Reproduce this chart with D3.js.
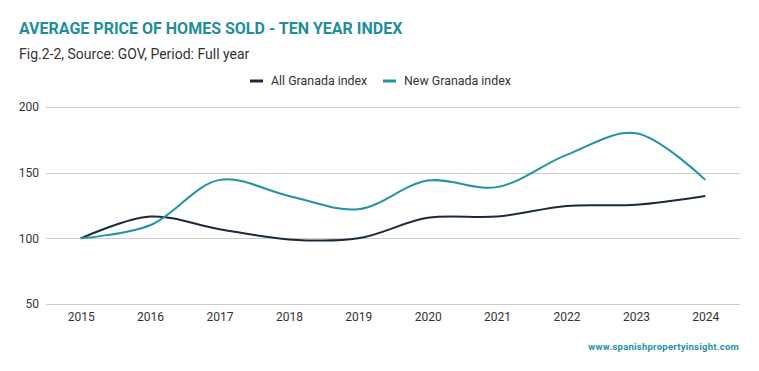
<!DOCTYPE html>
<html>
<head>
<meta charset="utf-8">
<script src="https://cdn.jsdelivr.net/npm/d3@7"></script>
<style>
  body { margin: 0; background: #fff; }
  svg text { font-family: Roboto, "Noto Sans", sans-serif; }
</style>
</head>
<body>
<div id="chart"></div>
<script>
// data
var years = [2015, 2016, 2017, 2018, 2019, 2020, 2021, 2022, 2023, 2024];
var allGranada = [100, 116.6, 107, 99.2, 100, 115.6, 116.6, 124.7, 125.6, 132.3];
var newGranada = [100, 110, 144.5, 132.3, 122.2, 144, 139, 163.5, 180, 144.5];
var yTicks = [50, 100, 150, 200];
var seriesNames = ["All Granada index", "New Granada index"];

var W = 759, H = 371;
var margin = {top: 107, right: 19, bottom: 67, left: 46};
var width = W - margin.left - margin.right,
    height = H - margin.top - margin.bottom;

var colors = ["#1b2a3b", "#2293a2"];

var svg = d3.select("#chart")
  .append("svg")
  .attr("width", W)
  .attr("height", H);

// Title
svg.append("text")
  .attr("x", 19)
  .attr("y", 34)
  .style("font-size", "16px")
  .style("font-weight", "bold")
  .attr("fill", "#1f8d9a")
  .text("AVERAGE PRICE OF HOMES SOLD - TEN YEAR INDEX");

// Subtitle
svg.append("text")
  .attr("x", 19)
  .attr("y", 59)
  .style("font-size", "14px")
  .attr("fill", "#333")
  .text("Fig.2-2, Source: GOV, Period: Full year");

var g = svg.append("g")
  .attr("transform", "translate(" + margin.left + "," + margin.top + ")");

var x = d3.scalePoint()
  .domain(years)
  .range([0, width])
  .padding(0.5);

var y = d3.scaleLinear()
  .domain([50, 200])
  .range([height, 0]);

// grid lines
g.append("g")
  .selectAll("line")
  .data(yTicks)
  .enter()
  .append("line")
  .attr("x1", 0)
  .attr("x2", width)
  .attr("y1", function(d) { return Math.round(y(d)) + 0.5; })
  .attr("y2", function(d) { return Math.round(y(d)) + 0.5; })
  .attr("stroke", "#cccccc")
  .attr("stroke-width", 1);

// Y axis labels
var yAxis = g.append("g")
  .call(d3.axisLeft(y).tickValues(yTicks).tickSize(0).tickPadding(7));
yAxis.select(".domain").remove();
yAxis.selectAll("text")
  .style("font-size", "12px")
  .style("font-family", "Roboto, sans-serif")
  .attr("fill", "#333");

// X axis labels
var xAxis = g.append("g")
  .attr("transform", "translate(0," + height + ")")
  .call(d3.axisBottom(x).tickSize(0).tickPadding(8));
xAxis.select(".domain").remove();
xAxis.selectAll("text")
  .style("font-size", "12px")
  .style("font-family", "Roboto, sans-serif")
  .attr("fill", "#333");

// Lines
var line = d3.line()
  .x(function(d, i) { return x(years[i]); })
  .y(function(d) { return y(d); })
  .curve(d3.curveCatmullRom.alpha(0.5));

[allGranada, newGranada].forEach(function(s, i) {
  g.append("path")
    .datum(s)
    .attr("fill", "none")
    .attr("stroke", colors[i])
    .attr("stroke-width", 2)
    .attr("d", line);
});

// Legend
var legend = svg.append("g");
var legendX = [250, 383];
seriesNames.forEach(function(name, i) {
  legend.append("line")
    .attr("x1", legendX[i])
    .attr("x2", legendX[i] + 13)
    .attr("y1", 81)
    .attr("y2", 81)
    .attr("stroke", colors[i])
    .attr("stroke-width", 3);
  legend.append("text")
    .attr("x", legendX[i] + 21)
    .attr("y", 85)
    .style("font-size", "12.4px")
    .attr("fill", "#333")
    .text(name);
});

// Footer
svg.append("text")
  .attr("x", 739)
  .attr("y", 350)
  .attr("text-anchor", "end")
  .style("font-size", "9.5px")
  .style("font-weight", "bold")
  .style("letter-spacing", "0.25px")
  .attr("fill", "#2293a2")
  .text("www.spanishpropertyinsight.com");
</script>
</body>
</html>
